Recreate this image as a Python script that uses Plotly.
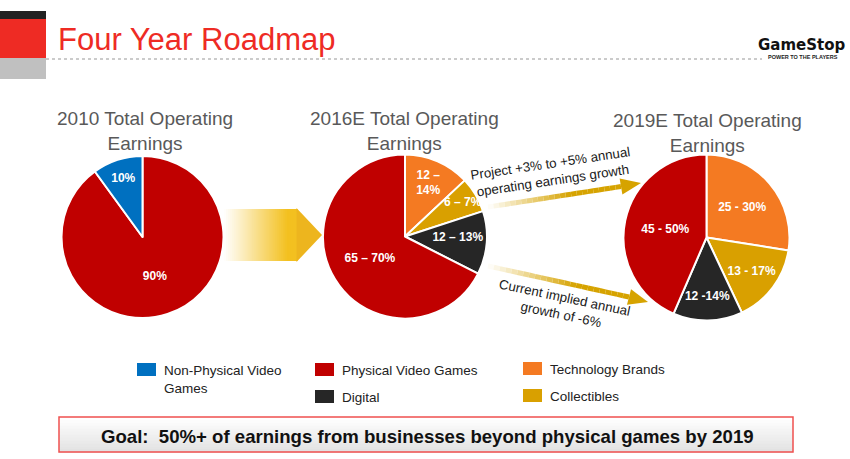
import plotly.graph_objects as go

W, H = 850, 459
FONT = "Arial, Liberation Sans, sans-serif"

# ---------------- data ----------------
titles = ["2010 Total Operating<br>Earnings", "2016E Total Operating<br>Earnings", "2019E Total Operating<br>Earnings"]

p2010_labels = ["Physical Video Games", "Non-Physical Video Games"]
p2010_values = [90, 10]
p2010_text = ["90%", "10%"]

p2016_labels = ["Technology Brands", "Collectibles", "Digital", "Physical Video Games"]
p2016_values = [13, 7, 12.5, 67.5]
p2016_text = ["12 –<br>14%", "6 – 7%", "12 – 13%", "65 – 70%"]

p2019_labels = ["Technology Brands", "Collectibles", "Digital", "Physical Video Games"]
p2019_values = [27.5, 15.5, 13.5, 43.5]
p2019_text = ["25 - 30%", "13 - 17%", "12 -14%", "45 - 50%"]

legend_items = ["Non-Physical Video<br>Games", "Physical Video Games", "Technology Brands", "Digital", "Collectibles"]
legend_keys = ["Non-Physical Video Games", "Physical Video Games", "Technology Brands", "Digital", "Collectibles"]

COLORS = {
    "Non-Physical Video Games": "#0070C0",
    "Physical Video Games": "#C00000",
    "Technology Brands": "#F47A22",
    "Digital": "#262626",
    "Collectibles": "#D9A000",
}

# ---------------- helpers ----------------
def px(x):
    return x / W

def py(y):
    return 1 - y / H

def dom(cx, cy, r):
    return dict(x=[px(cx - r), px(cx + r)], y=[py(cy + r), py(cy - r)])

fig = go.Figure()

def add_pie(labels, values, text, cx, cy, r):
    fig.add_trace(go.Pie(
        labels=labels, values=values, text=text,
        textinfo="text", texttemplate="%{text}",
        textposition="inside", insidetextorientation="horizontal",
        sort=False, direction="clockwise", rotation=0,
        marker=dict(colors=[COLORS[l] for l in labels], line=dict(color="white", width=2)),
        textfont=dict(family=FONT, size=12, color="white", weight="bold"),
        domain=dom(cx, cy, r), showlegend=False, hoverinfo="label+text",
    ))

add_pie(p2010_labels, p2010_values, p2010_text, 142.5, 237, 81)
add_pie(p2016_labels, p2016_values, p2016_text, 405, 236.5, 82)
add_pie(p2019_labels, p2019_values, p2019_text, 706.5, 237.5, 83)

shapes = []
annotations = []

# header blocks
shapes.append(dict(type="rect", xref="paper", yref="paper", x0=px(0), x1=px(46), y0=py(19), y1=py(11),
                   fillcolor="#222222", line_width=0, layer="below"))
shapes.append(dict(type="rect", xref="paper", yref="paper", x0=px(0), x1=px(46), y0=py(58), y1=py(19),
                   fillcolor="#EE2B24", line_width=0, layer="below"))
shapes.append(dict(type="rect", xref="paper", yref="paper", x0=px(0), x1=px(46), y0=py(79), y1=py(58),
                   fillcolor="#C0C0C0", line_width=0, layer="below"))
shapes.append(dict(type="line", xref="paper", yref="paper", x0=px(46), x1=px(762), y0=py(59), y1=py(59),
                   line=dict(color="#BBBBBB", width=1.5, dash="dot"), layer="below"))
annotations.append(dict(text="Four Year Roadmap", xref="paper", yref="paper", x=px(56), y=py(39),
                        xanchor="left", yanchor="middle", showarrow=False,
                        font=dict(family=FONT, size=31, color="#EE2B24")))
# logo
annotations.append(dict(text="<b>GameStop</b>", xref="paper", yref="paper", x=px(802), y=py(45),
                        xanchor="center", yanchor="middle", showarrow=False,
                        font=dict(family="DejaVu Sans, sans-serif", size=15, color="#111111")))
annotations.append(dict(text="<b>POWER TO THE PLAYERS</b>", xref="paper", yref="paper", x=px(803), y=py(56.5),
                        xanchor="center", yanchor="middle", showarrow=False,
                        font=dict(family=FONT, size=5.5, color="#222222")))

# pie titles
for t, cx, cy in zip(titles, [145, 404, 707], [131, 131, 133]):
    annotations.append(dict(text=t, xref="paper", yref="paper", x=px(cx), y=py(cy),
                            xanchor="center", yanchor="middle", showarrow=False,
                            font=dict(family=FONT, size=19, color="#595959")))

# big gradient arrow between pie 1 and pie 2
def mix(c1, c2, t):
    a = [int(c1[i:i + 2], 16) for i in (1, 3, 5)]
    b = [int(c2[i:i + 2], 16) for i in (1, 3, 5)]
    return "#%02x%02x%02x" % tuple(round(a[k] + (b[k] - a[k]) * t) for k in range(3))

x0, x1, steps = 224, 297, 36
for i in range(steps):
    xa = x0 + (x1 - x0) * i / steps
    xb = x0 + (x1 - x0) * (i + 1) / steps + 0.6
    t = (i + 0.5) / steps
    shapes.append(dict(type="rect", xref="paper", yref="paper", x0=px(xa), x1=px(xb), y0=py(261), y1=py(209),
                       fillcolor=mix("#FFFFFF", "#F3C020", min(1, t * 1.15)), line_width=0, layer="below"))
shapes.append(dict(type="path", xref="paper", yref="paper",
                   path=f"M {px(296.5)} {py(208)} L {px(322)} {py(235)} L {px(296.5)} {py(262)} Z",
                   fillcolor="#EDB51E", line_width=0, layer="below"))

# thin gradient arrows between pie 2 and pie 3
def thin_arrow(xs, ys, xe, ye, tipx, tipy):
    n = 24
    for i in range(n):
        ta, tb = i / n, (i + 1) / n
        shapes.append(dict(type="line", xref="paper", yref="paper",
                           x0=px(xs + (xe - xs) * ta), y0=py(ys + (ye - ys) * ta),
                           x1=px(xs + (xe - xs) * tb), y1=py(ys + (ye - ys) * tb),
                           line=dict(color=mix("#FFFFFF", "#D6A300", min(1, (i + 0.5) / n * 1.6)), width=5),
                           layer="below"))
    dx, dy = tipx - xe, tipy - ye
    L = (dx * dx + dy * dy) ** 0.5
    nx, ny = -dy / L, dx / L
    hw = 8
    shapes.append(dict(type="path", xref="paper", yref="paper",
                       path=(f"M {px(xe + nx * hw)} {py(ye + ny * hw)} L {px(tipx)} {py(tipy)} "
                             f"L {px(xe - nx * hw)} {py(ye - ny * hw)} Z"),
                       fillcolor="#D6A300", line_width=0, layer="below"))

thin_arrow(488, 207, 621, 186.5, 641, 183)
thin_arrow(488, 266, 629, 297, 648, 302)

annotations.append(dict(text="Project +3% to +5% annual<br>operating earnings growth", xref="paper", yref="paper",
                        x=px(551), y=py(172), xanchor="center", yanchor="middle", showarrow=False,
                        textangle=-8.5, font=dict(family=FONT, size=13.3, color="#1a1a1a")))
annotations.append(dict(text="Current implied annual<br>growth of -6%", xref="paper", yref="paper",
                        x=px(563), y=py(306), xanchor="center", yanchor="middle", showarrow=False,
                        textangle=12, font=dict(family=FONT, size=13.3, color="#1a1a1a")))

# legend
leg_pos = [(137, 363), (315, 363), (523, 362), (315, 390), (523, 389)]
for lab, key, (lx, ly) in zip(legend_items, legend_keys, leg_pos):
    shapes.append(dict(type="rect", xref="paper", yref="paper", x0=px(lx), x1=px(lx + 19), y0=py(ly + 13), y1=py(ly),
                       fillcolor=COLORS[key], line_width=0))
    annotations.append(dict(text=lab, xref="paper", yref="paper", x=px(lx + 25), y=py(ly - 2),
                            xanchor="left", yanchor="top", showarrow=False, align="left",
                            font=dict(family=FONT, size=13.5, color="#222222")))

# goal box
bx0, bx1, by0, by1 = 59, 793, 417, 452
nb = 12
for i in range(nb):
    ya = by0 + (by1 - by0) * i / nb
    yb = by0 + (by1 - by0) * (i + 1) / nb + 0.5
    shapes.append(dict(type="rect", xref="paper", yref="paper", x0=px(bx0), x1=px(bx1), y0=py(yb), y1=py(ya),
                       fillcolor=mix("#FFFFFF", "#E2E2E2", i / (nb - 1)), line_width=0, layer="below"))
shapes.append(dict(type="rect", xref="paper", yref="paper", x0=px(bx0), x1=px(bx1), y0=py(by1), y1=py(by0),
                   fillcolor="rgba(0,0,0,0)", line=dict(color="#F0504F", width=1.5)))
annotations.append(dict(text="<b>Goal:  50%+ of earnings from businesses beyond physical games by 2019</b>",
                        xref="paper", yref="paper", x=px(427), y=py(436), xanchor="center", yanchor="middle",
                        showarrow=False, font=dict(family=FONT, size=18.6, color="#111111")))

fig.update_layout(
    width=W, height=H,
    margin=dict(l=0, r=0, t=0, b=0),
    paper_bgcolor="white", plot_bgcolor="white",
    shapes=shapes, annotations=annotations,
    uniformtext=dict(minsize=12, mode="show"),
    showlegend=False,
)

fig.write_html("out.html")
